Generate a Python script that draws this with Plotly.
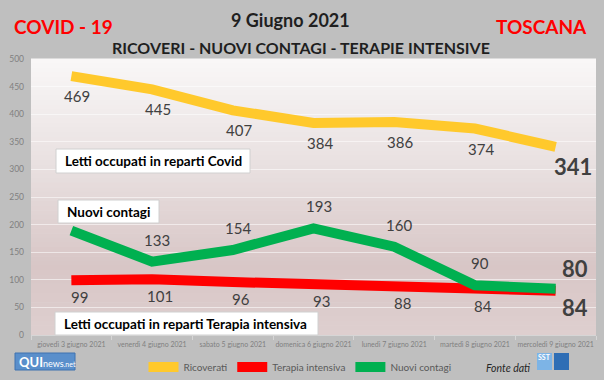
import plotly.graph_objects as go

categories = ["giovedì 3 giugno 2021", "venerdì 4 giugno 2021", "sabato 5 giugno 2021",
              "domenica 6 giugno 2021", "lunedì 7 giugno 2021", "martedì 8 giugno 2021",
              "mercoledì 9 giugno 2021"]
ricoverati = [469, 445, 407, 384, 386, 374, 341]
terapia = [99, 101, 96, 93, 88, 84, 80]
contagi = [189, 133, 154, 193, 160, 90, 84]
series_names = ["Ricoverati", "Terapia intensiva", "Nuovi contagi"]
y_ticks = [0, 50, 100, 150, 200, 250, 300, 350, 400, 450, 500]

FONT = "Lato, 'Open Sans', sans-serif"
W, H = 604, 380
L, R, T, B = 31, 596, 59, 335


def px(x):
    return (x - L) / (R - L)


def py(y):
    return (B - y) / (B - T)


fig = go.Figure()
colors = ["#FFC92C", "#FF0000", "#00B050"]
for name, vals, col in zip(series_names, [ricoverati, terapia, contagi], colors):
    fig.add_trace(go.Scatter(x=categories, y=vals, name=name, mode="lines",
                             line=dict(color=col, width=10), hoverinfo="skip"))

# gradient background of plot area
def lerp(c1, c2, t):
    return tuple(round(a + (b - a) * t) for a, b in zip(c1, c2))

stops = [(0.0, (249, 248, 248)), (0.45, (230, 220, 220)), (0.75, (216, 198, 198)), (1.0, (222, 207, 207))]
shapes = []
n = 60
for i in range(n):
    t = (i + 0.5) / n
    for j in range(len(stops) - 1):
        if stops[j][0] <= t <= stops[j + 1][0]:
            tt = (t - stops[j][0]) / (stops[j + 1][0] - stops[j][0])
            c = lerp(stops[j][1], stops[j + 1][1], tt)
            break
    shapes.append(dict(type="rect", xref="x domain", yref="y domain", x0=0, x1=1,
                       y0=1 - (i + 1) / n, y1=1 - i / n + 0.002, line=dict(width=0),
                       fillcolor="rgb(%d,%d,%d)" % c, layer="below"))

# text boxes
boxes = [
    (56, 250, 149, 173, 63, "Letti occupati in reparti Covid"),
    (58, 159, 200, 223, 65, "Nuovi contagi"),
    (55, 318, 312, 335, 62, "Letti occupati in reparti Terapia intensiva"),
]
annotations = []
for x0, x1, y0, y1, tx, text in boxes:
    shapes.append(dict(type="rect", xref="paper", yref="paper", x0=px(x0), x1=px(x1),
                       y0=py(y1), y1=py(y0), fillcolor="white",
                       line=dict(color="#D0D0D0", width=1), layer="above"))
    annotations.append(dict(xref="paper", yref="paper", x=px(tx), y=py((y0 + y1) / 2),
                            xanchor="left", yanchor="middle", showarrow=False, text="<b>%s</b>" % text,
                            font=dict(family=FONT, size=13.5, color="#000000")))

# data labels
lab_font = dict(family=FONT, size=15, color="#404040")
for i, v in enumerate(ricoverati[:-1]):
    annotations.append(dict(x=categories[i], y=v, xref="x", yref="y", text=str(v), showarrow=False,
                            xshift=6, yshift=-20, font=lab_font))
for i, v in enumerate(contagi[:-1]):
    if i == 0:
        continue
    annotations.append(dict(x=categories[i], y=v, xref="x", yref="y", text=str(v), showarrow=False,
                            xshift=5, yshift=22, font=lab_font))
for i, v in enumerate(terapia[:-1]):
    annotations.append(dict(x=categories[i], y=v, xref="x", yref="y", text=str(v), showarrow=False,
                            xshift=8, yshift=-17, font=lab_font))
big_font = dict(family=FONT, size=22, color="#404040")
annotations.append(dict(x=categories[-1], y=ricoverati[-1], xref="x", yref="y",
                        text="<b>%d</b>" % ricoverati[-1], showarrow=False, xshift=17, yshift=-20, font=big_font))
annotations.append(dict(x=categories[-1], y=terapia[-1], xref="x", yref="y",
                        text="<b>%d</b>" % terapia[-1], showarrow=False, xshift=19, yshift=22, font=big_font))
annotations.append(dict(x=categories[-1], y=contagi[-1], xref="x", yref="y",
                        text="<b>%d</b>" % contagi[-1], showarrow=False, xshift=19, yshift=-19, font=big_font))

# titles
annotations += [
    dict(xref="paper", yref="paper", x=px(290), y=py(20), text="<b>9 Giugno 2021</b>", showarrow=False,
         font=dict(family=FONT, size=18, color="#1F1F1F"), xanchor="center", yanchor="middle"),
    dict(xref="paper", yref="paper", x=px(301), y=py(47),
         text="<b>RICOVERI - NUOVI CONTAGI - TERAPIE INTENSIVE</b>", showarrow=False,
         font=dict(family=FONT, size=16, color="#1F1F1F"), xanchor="center", yanchor="middle"),
    dict(xref="paper", yref="paper", x=px(12), y=py(27), text="<b>COVID - 19</b>", showarrow=False,
         font=dict(family=FONT, size=19, color="#FF0000"), xanchor="left", yanchor="middle"),
    dict(xref="paper", yref="paper", x=px(589), y=py(27), text="<b>TOSCANA</b>", showarrow=False,
         font=dict(family=FONT, size=19, color="#FF0000"), xanchor="right", yanchor="middle"),
    dict(xref="paper", yref="paper", x=px(532), y=py(368), text="<i>Fonte dati</i>", showarrow=False,
         font=dict(family=FONT, size=10.5, color="#262626"), xanchor="right", yanchor="middle"),
]

# logos
shapes.append(dict(type="rect", xref="paper", yref="paper", x0=px(15), x1=px(75), y0=py(370), y1=py(353),
                   fillcolor="#5A8FCB", line=dict(color="#3F72B0", width=1), layer="above"))
annotations.append(dict(xref="paper", yref="paper", x=px(17), y=py(361.5), xanchor="left", yanchor="middle",
                        showarrow=False, text="<b>QUI</b><span style='font-size:9px'>news</span><span style='font-size:7px'>.net</span>",
                        font=dict(family=FONT, size=13, color="white")))
shapes.append(dict(type="rect", xref="paper", yref="paper", x0=px(537), x1=px(552), y0=py(370), y1=py(353),
                   fillcolor="#7DB4E6", line=dict(width=0), layer="above"))
shapes.append(dict(type="rect", xref="paper", yref="paper", x0=px(554), x1=px(569), y0=py(370), y1=py(353),
                   fillcolor="#2F6EB5", line=dict(width=0), layer="above"))
annotations.append(dict(xref="paper", yref="paper", x=px(544.5), y=py(357), showarrow=False, text="<b>SST</b>",
                        font=dict(family=FONT, size=7, color="white"), xanchor="center", yanchor="middle"))

fig.update_layout(
    width=W, height=H,
    margin=dict(l=L, r=W - R, t=T, b=H - B, pad=0, autoexpand=False),
    paper_bgcolor="#BFBFBF", plot_bgcolor="#F0E8E8",
    font=dict(family=FONT, color="#7F7F7F"),
    showlegend=True,
    legend=dict(orientation="h", x=px(300), y=py(367), xanchor="center", yanchor="middle",
                font=dict(family=FONT, size=10, color="#595959"), bgcolor="rgba(0,0,0,0)",
                itemwidth=30, tracegroupgap=0),
    shapes=shapes, annotations=annotations,
    xaxis=dict(type="category", range=[-0.5, 6.5], showgrid=False, showline=True, linecolor="#D6D6D6",
               ticks="outside", tickson="boundaries", ticklen=4, tickcolor="#D6D6D6", tickangle=0,
               automargin=False, ticklabelstandoff=3,
               tickfont=dict(family=FONT, size=7, color="#7F7F7F"), fixedrange=True),
    yaxis=dict(range=[0, 500], tickvals=y_ticks, showgrid=True, gridcolor="rgba(255,255,255,0.55)",
               gridwidth=1, zeroline=False, showline=False, ticks="", automargin=False,
               ticklabelstandoff=6,
               tickfont=dict(family=FONT, size=8.5, color="#7F7F7F"), fixedrange=True),
)

fig.write_html("out.html", config={"displayModeBar": False},
               post_script="document.body.style.margin='0';document.body.style.padding='0';"
                           "document.body.style.overflow='hidden';")
